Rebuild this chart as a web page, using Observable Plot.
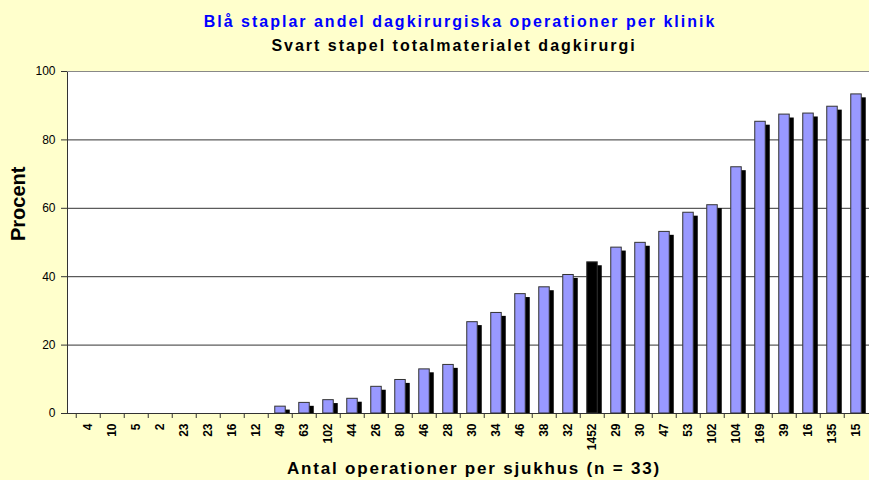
<!DOCTYPE html>
<html>
<head>
<meta charset="utf-8">
<script src="https://cdn.jsdelivr.net/npm/d3@7"></script>
<script src="https://cdn.jsdelivr.net/npm/@observablehq/plot@0.6"></script>
<style>
html, body { margin: 0; padding: 0; background: #FFFFCC; width: 869px; height: 480px; overflow: hidden; }
body { position: relative; font-family: "Liberation Sans", Arial, sans-serif; }
.t { position: absolute; left: 0; width: 869px; text-align: center; font-weight: bold; white-space: nowrap; box-sizing: border-box; }
#t1 { top: 13px; line-height: 18px; font-size: 16px; letter-spacing: 2px; color: #0000FF; padding-left: 51px; }
#t2 { top: 37px; line-height: 18px; font-size: 16px; letter-spacing: 2px; color: #000; padding-left: 39px; }
#xt { top: 459px; line-height: 20px; font-size: 17px; letter-spacing: 1.8px; color: #000; padding-left: 79px; }
#chart { position: absolute; top: 60px; left: 0; }
</style>
</head>
<body>
<div class="t" id="t1">Blå staplar andel dagkirurgiska operationer per klinik</div>
<div class="t" id="t2">Svart stapel totalmaterialet dagkirurgi</div>
<div id="chart"></div>
<div class="t" id="xt">Antal operationer per sjukhus (n = 33)</div>
<script>
// Number of operations per hospital (category labels, in chart order)
const hospitalSizes = ["4","10","5","2","23","23","16","12","49","63","102","44","26","80","46","28","30","34","46","38","32","1452","29","30","47","53","102","104","169","39","16","135","15"];
// Share of day-surgery operations per clinic (percent)
const dayShare = [0,0,0,0,0,0,0,0,2.0,3.1,3.9,4.3,7.8,9.8,12.9,14.2,26.7,29.4,34.9,36.9,40.5,44.2,48.5,49.9,53.1,58.7,60.9,72.0,85.3,87.4,87.7,89.7,93.3];
// The total-material bar (drawn black)
const totalLabel = "1452";
const yTicks = [0, 20, 40, 60, 80, 100];
const yGrid = [20, 40, 60, 80];

const W = 869, ML = 67, MR = -7;
const idx = d3.range(hospitalSizes.length);
const nonZero = idx.filter(i => dayShare[i] > 0);
const step = (W - ML - MR) / idx.length;
const barInset = 6.75;
const font = '"Liberation Sans", Arial, sans-serif';

const chart = Plot.plot({
  width: W,
  height: 392,
  marginLeft: ML,
  marginRight: MR,
  marginTop: 11,
  marginBottom: 39,
  style: { background: "transparent", fontFamily: font, color: "black" },
  x: { type: "band", domain: idx, padding: 0, axis: null },
  y: { domain: [0, 100] },
  color: { type: "identity" },
  marks: [
    Plot.frame({ fill: "white", stroke: null }),
    Plot.gridY(yGrid, { stroke: "#333", strokeOpacity: 1 }),
    // shadow behind each bar
    Plot.barY(nonZero, { x: i => i, y: i => dayShare[i] - 1, fill: "black", dx: 4.5, insetLeft: barInset, insetRight: barInset }),
    Plot.barY(nonZero, {
      x: i => i, y: i => dayShare[i],
      fill: i => hospitalSizes[i] === totalLabel ? "black" : "#9999FF",
      stroke: "#333", strokeWidth: 1,
      insetLeft: barInset, insetRight: barInset
    }),
    Plot.frame({ fill: "none", stroke: "#333" }),
    Plot.gridY([100], { stroke: "#888", strokeOpacity: 1 }),
    // category boundary ticks
    Plot.ruleX(idx, { x: i => i, dx: -step / 2, y1: 0, y2: 0, insetBottom: -5, stroke: "#333" }),
    Plot.axisY({ ticks: yTicks, tickSize: 6, tickPadding: 6, fontSize: 12, stroke: "#333", fill: "black", label: null }),
    // rotated category labels
    Plot.text(idx, { x: i => i, y: 0, text: i => hospitalSizes[i], rotate: -90, textAnchor: "end", lineAnchor: "middle", dy: 10, fontSize: 12, fontWeight: "bold", fill: "black" }),
    Plot.text(["Procent"], { text: d => d, frameAnchor: "left", dx: -49, dy: -1.5, rotate: -90, fontSize: 20, fontWeight: "bold", fill: "black" })
  ]
});
document.getElementById("chart").appendChild(chart);
</script>
</body>
</html>
